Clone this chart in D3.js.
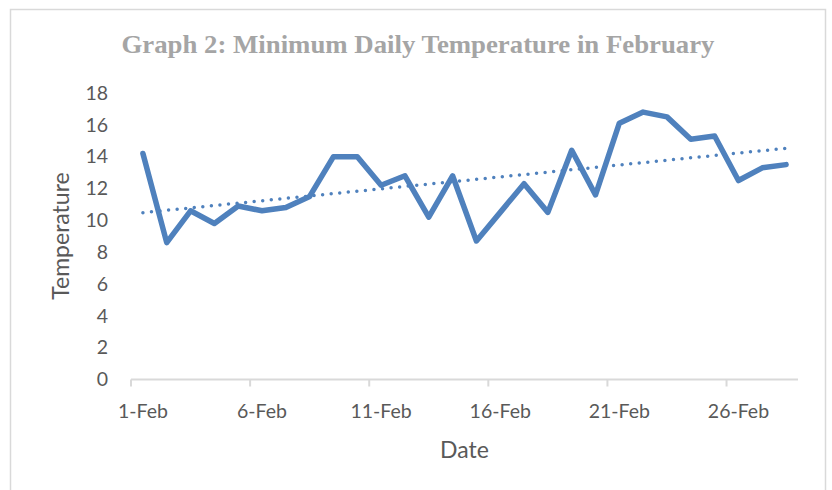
<!DOCTYPE html>
<html>
<head>
<meta charset="utf-8">
<script src="https://cdn.jsdelivr.net/npm/d3@7"></script>
<style>
  html, body { margin: 0; padding: 0; background: #fff; }
  svg { display: block; }
</style>
</head>
<body>
<svg id="chart" width="832" height="490"></svg>
<script>
// Minimum daily temperature for each day of February
const days = d3.range(1, 29);
const temps = [14.2, 8.6, 10.6, 9.8, 10.9, 10.6, 10.8, 11.5, 14.0, 14.0,
               12.2, 12.8, 10.2, 12.8, 8.7, 10.5, 12.3, 10.5, 14.4, 11.6,
               16.1, 16.8, 16.5, 15.1, 15.3, 12.5, 13.3, 13.5];
const yTicks = [0, 2, 4, 6, 8, 10, 12, 14, 16, 18];
const labelDays = [1, 6, 11, 16, 21, 26];
const chartTitle = "Graph 2: Minimum Daily Temperature in February";

const svg = d3.select("#chart");
const lineColor = "#4F81BD";
const textColor = "#595959";
const axisColor = "#D9D9D9";
const tickFont = "Lato, 'Open Sans', sans-serif";

// Chart frame
svg.append("rect")
  .attr("x", 10.5).attr("y", 9.5)
  .attr("width", 815).attr("height", 490)
  .attr("fill", "#fff")
  .attr("stroke", axisColor)
  .attr("stroke-width", 1.5);

// Scales: each day occupies a band, points sit at band centres
const x = d3.scaleBand().domain(days).range([131, 798]).padding(0);
const xc = d => x(d) + x.bandwidth() / 2;
const y = d3.scaleLinear().domain([0, 18]).range([379.5, 93]);

// Title
svg.append("text")
  .attr("x", 418).attr("y", 53)
  .attr("text-anchor", "middle")
  .attr("font-family", "'Liberation Serif', 'Times New Roman', serif")
  .attr("font-weight", "bold")
  .attr("font-size", 25)
  .attr("fill", "#A5A5A5")
  .attr("textLength", 593)
  .attr("lengthAdjust", "spacingAndGlyphs")
  .text(chartTitle);

// Y axis labels (no axis line)
const yAxis = d3.axisLeft(y).tickValues(yTicks).tickSize(0).tickPadding(0);
const gy = svg.append("g").attr("transform", "translate(108,0)").call(yAxis);
gy.select(".domain").remove();
gy.selectAll("text")
  .attr("font-family", tickFont)
  .attr("font-size", 19.5)
  .attr("fill", textColor);

// X axis: line with tick marks at the start of labelled days
const xAxis = d3.axisBottom(x).tickValues(labelDays).tickSize(0).tickFormat(d => d + "-Feb");
const gx = svg.append("g").attr("transform", "translate(0," + y(0) + ")").call(xAxis);
gx.select(".domain")
  .attr("stroke", axisColor).attr("stroke-width", 2)
  .attr("d", "M" + x.range()[0] + ",0H" + x.range()[1]);
gx.selectAll(".tick line").remove();
gx.selectAll(".tick text")
  .attr("y", 38)
  .attr("dy", 0)
  .attr("font-family", tickFont)
  .attr("font-size", 19.5)
  .attr("fill", textColor);
gx.selectAll(".tick").append("line")
  .attr("x1", -x.bandwidth() / 2).attr("x2", -x.bandwidth() / 2)
  .attr("y1", 0).attr("y2", 7)
  .attr("stroke", axisColor).attr("stroke-width", 2);

// Axis titles
svg.append("text")
  .attr("x", 464.5).attr("y", 458)
  .attr("text-anchor", "middle")
  .attr("font-family", tickFont)
  .attr("font-size", 23)
  .attr("fill", textColor)
  .text("Date");

svg.append("text")
  .attr("transform", "translate(69,236) rotate(-90)")
  .attr("text-anchor", "middle")
  .attr("font-family", tickFont)
  .attr("font-size", 23)
  .attr("fill", textColor)
  .text("Temperature");

// Data line
const pts = days.map((d, i) => [d, temps[i]]);
svg.append("path")
  .datum(pts)
  .attr("fill", "none")
  .attr("stroke", lineColor)
  .attr("stroke-width", 5.5)
  .attr("stroke-linejoin", "round")
  .attr("stroke-linecap", "round")
  .attr("d", d3.line().x(p => xc(p[0])).y(p => y(p[1])));

// Linear trend line (least squares)
const mx = d3.mean(days), my = d3.mean(temps);
const slope = d3.sum(days, (d, i) => (d - mx) * (temps[i] - my)) /
              d3.sum(days, d => (d - mx) * (d - mx));
const icpt = my - slope * mx;
const trend = [days[0], days[days.length - 1]].map(d => [d, icpt + slope * d]);
svg.append("path")
  .datum(trend)
  .attr("fill", "none")
  .attr("stroke", lineColor)
  .attr("stroke-width", 3.5)
  .attr("stroke-linecap", "round")
  .attr("stroke-dasharray", "0 8.6")
  .attr("d", d3.line().x(p => xc(p[0])).y(p => y(p[1])));
</script>
</body>
</html>
